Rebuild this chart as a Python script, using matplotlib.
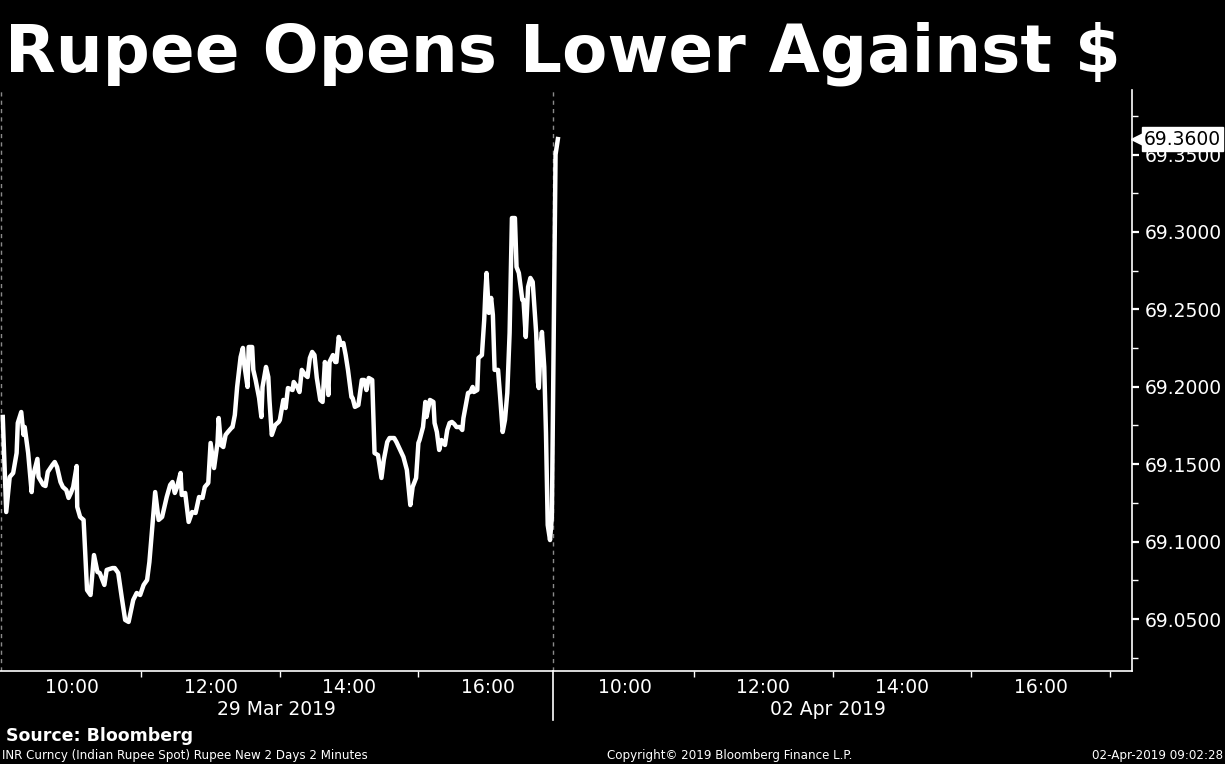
import matplotlib
matplotlib.use('Agg')
import matplotlib.pyplot as plt
import matplotlib.transforms as mtrans
from matplotlib.ticker import FixedLocator, MultipleLocator, FormatStrFormatter

# ---------------- data ----------------
# minutes after 09:00 on 29 Mar 2019 (2-minute bars, traced)
day1_minutes = [0, 3, 6, 9, 12, 13, 16, 18, 19, 22, 25, 26, 30, 31, 35, 37, 39, 43, 45, 47,
                50, 52, 55, 57, 59, 61, 64, 64.5, 67, 70, 73, 76, 79, 82, 84, 88, 90, 95, 97, 100,
                103, 106, 109, 113, 116, 119, 122, 125, 127, 132, 135, 138, 142, 145, 147, 149, 151, 154, 155, 158,
                161, 164, 167, 170, 173, 175, 178, 180, 182, 183, 186, 187, 189, 191, 193, 195, 198, 199, 201, 203,
                206, 208, 209, 212, 213, 216, 217, 219, 222, 224, 225, 228, 230, 231, 233, 236, 239, 240, 243, 245,
                247, 251, 252, 255, 257, 259, 262, 264, 266, 268, 270, 272, 275, 277, 279, 281, 282, 283, 286, 288,
                289, 291, 293, 295, 297, 299, 302, 303, 305, 308, 311, 313, 315, 317, 320, 322, 325, 328, 330, 333,
                335, 339, 341, 345, 347, 350, 353, 355, 358, 360, 361, 364, 366, 367, 370, 373, 374, 376, 378, 380,
                383, 385, 387, 389, 391, 393, 396, 398, 399, 403, 405, 407, 408, 411, 412, 415, 417, 418, 419, 420,
                421, 423, 424.5, 426, 429, 431, 433, 435, 437, 439, 441, 443.6, 445, 447, 450, 451, 453, 455, 457, 459,
                462, 463.5, 464.3, 466, 467, 469, 470.5, 472, 474, 475.6]
day1_prices = [69.1805, 69.1191, 69.1417, 69.1443, 69.1572, 69.1766, 69.1837, 69.1689, 69.1740, 69.1572,
               69.1320, 69.1417, 69.1534, 69.1417, 69.1366, 69.1359, 69.1450, 69.1495, 69.1514, 69.1482,
               69.1385, 69.1353, 69.1333, 69.1282, 69.1314, 69.1353, 69.1488, 69.1224, 69.1159, 69.1140,
               69.0687, 69.0655, 69.0913, 69.0804, 69.0797, 69.0720, 69.0817, 69.0829, 69.0829, 69.0797,
               69.0642, 69.0494, 69.0481, 69.0623, 69.0668, 69.0655, 69.0720, 69.0752, 69.0868, 69.1320,
               69.1140, 69.1159, 69.1288, 69.1366, 69.1385, 69.1314, 69.1353, 69.1443, 69.1301, 69.1314,
               69.1127, 69.1191, 69.1185, 69.1288, 69.1282, 69.1353, 69.1379, 69.1637, 69.1527, 69.1475,
               69.1637, 69.1798, 69.1624, 69.1611, 69.1689, 69.1708, 69.1734, 69.1740, 69.1818, 69.1999,
               69.2192, 69.2251, 69.2154, 69.1999, 69.2257, 69.2257, 69.2109, 69.2044, 69.1928, 69.1805,
               69.1999, 69.2128, 69.2063, 69.1915, 69.1689, 69.1753, 69.1773, 69.1786, 69.1915, 69.1863,
               69.1992, 69.1979, 69.2031, 69.1999, 69.1966, 69.2109, 69.2076, 69.2063, 69.2186, 69.2225,
               69.2205, 69.2057, 69.1915, 69.1902, 69.2160, 69.2076, 69.1947, 69.2160, 69.2205, 69.2160,
               69.2160, 69.2322, 69.2270, 69.2283, 69.2205, 69.2109, 69.1934, 69.1928, 69.1870, 69.1882,
               69.2044, 69.2044, 69.1979, 69.2057, 69.2044, 69.1572, 69.1559, 69.1411, 69.1527, 69.1643,
               69.1669, 69.1669, 69.1643, 69.1579, 69.1547, 69.1463, 69.1236, 69.1353, 69.1411, 69.1637,
               69.1656, 69.1740, 69.1902, 69.1805, 69.1915, 69.1902, 69.1766, 69.1708, 69.1592, 69.1656,
               69.1624, 69.1721, 69.1766, 69.1773, 69.1760, 69.1740, 69.1740, 69.1721, 69.1798, 69.1960,
               69.1966, 69.1999, 69.1966, 69.1979, 69.2186, 69.2205, 69.2432, 69.2606, 69.2735, 69.2612,
               69.2477, 69.2574, 69.2464, 69.2109, 69.2109, 69.1915, 69.1708, 69.1786, 69.1960, 69.2348,
               69.3090, 69.3090, 69.2774, 69.2735, 69.2561, 69.2561, 69.2322, 69.2645, 69.2703, 69.2677,
               69.2348, 69.2031, 69.1992, 69.2283, 69.2354, 69.2128, 69.1702, 69.1107, 69.1010, 69.1159]
# minutes after 09:00 on 02 Apr 2019
day2_minutes = [0, 2]
day2_prices = [69.3500, 69.3600]

session_dates = ['29 Mar 2019', '02 Apr 2019']
hour_ticks = [10, 12, 14, 16]
hour_labels = ['10:00', '12:00', '14:00', '16:00']
minor_hours = [11, 13, 15, 17]

title = 'Rupee Opens Lower Against $'
source = 'Source: Bloomberg'
footer_left = 'INR Curncy (Indian Rupee Spot) Rupee New 2 Days 2 Minutes'
footer_mid = 'Copyright\u00a9 2019 Bloomberg Finance L.P.'
footer_right = '02-Apr-2019 09:02:28'

# ---------------- layout ----------------
DAY2_OFFSET = 7.98           # hours: compressed axis, day 2 follows day 1
X_LEFT, DIVIDER, X_RIGHT = 8.96, 16.94, 25.30
Y_LOW, Y_HIGH = 69.0164, 69.3917

x_vals = [9 + m / 60 for m in day1_minutes] + [9 + m / 60 + DAY2_OFFSET for m in day2_minutes]
y_vals = day1_prices + day2_prices

fig = plt.figure(figsize=(12.25, 7.64), dpi=100, facecolor='black')
ax = fig.add_axes([0.0, 0.1217, 0.924, 0.7605])
ax.set_facecolor('black')

ax.plot(x_vals, y_vals, color='white', lw=3.2, solid_joinstyle='round', zorder=3)

ax.set_xlim(X_LEFT, X_RIGHT)
ax.set_ylim(Y_LOW, Y_HIGH)

for s in ['top', 'left']:
    ax.spines[s].set_visible(False)
for s in ['bottom', 'right']:
    ax.spines[s].set_color('white')
    ax.spines[s].set_linewidth(1.2)

# dashed day separators
dash = (0, (3, 3))
ax.axvline(X_LEFT + 0.015, color='#8a8a8a', lw=1, ls=dash, zorder=1)
ax.axvline(DIVIDER, color='#8a8a8a', lw=1, ls=dash, zorder=1)

# y axis on right
ax.yaxis.tick_right()
ax.yaxis.set_major_locator(MultipleLocator(0.05))
ax.yaxis.set_minor_locator(MultipleLocator(0.025))
ax.yaxis.set_major_formatter(FormatStrFormatter('%.4f'))
ax.tick_params(axis='y', which='major', colors='white', labelsize=13.5, length=5,
               width=1.6, pad=4, direction='out')
ax.tick_params(axis='y', which='minor', colors='white', length=4, width=1, direction='out')

# x axis ticks
major_x = hour_ticks + [h + DAY2_OFFSET for h in hour_ticks]
minor_x = minor_hours[:3] + [h + DAY2_OFFSET for h in minor_hours]
ax.xaxis.set_major_locator(FixedLocator(major_x))
ax.set_xticklabels(hour_labels + hour_labels)
ax.xaxis.set_minor_locator(FixedLocator(minor_x))
ax.tick_params(axis='x', which='major', colors='white', labelsize=13.5, length=0, pad=5)
ax.tick_params(axis='x', which='minor', colors='white', length=4, width=1, direction='out')

# date labels and solid separator under axis
tr = mtrans.blended_transform_factory(ax.transData, ax.transAxes)
date_centers = [(X_LEFT + DIVIDER) / 2, 12.93 + DAY2_OFFSET]
for xc, lab in zip(date_centers, session_dates):
    ax.text(xc, -0.066, lab, transform=tr, color='white', fontsize=13.5,
            ha='center', va='center')
ax.plot([DIVIDER, DIVIDER], [0, -0.084], transform=tr, color='white', lw=1.2, clip_on=False)

# last price tag
last = y_vals[-1]
tr2 = mtrans.blended_transform_factory(ax.transAxes, ax.transData)
ax.plot([1.0045], [last], marker='<', ms=8, color='white', transform=tr2, clip_on=False, zorder=6)
ax.text(1.0105, last, f'{last:.4f}', transform=tr2, color='black', fontsize=13.5,
        ha='left', va='center', zorder=7, clip_on=False,
        bbox=dict(boxstyle='square,pad=0.12', fc='white', ec='white'))

# texts
fig.text(0.004, 0.9058, title, color='white', fontsize=47.5, fontweight='bold',
         ha='left', va='baseline')
fig.text(0.005, 0.030, source, color='white', fontsize=12.5, fontweight='bold',
         ha='left', va='baseline')
fig.text(0.002, 0.006, footer_left, color='white', fontsize=8.6, ha='left', va='baseline')
fig.text(0.596, 0.006, footer_mid, color='white', fontsize=8.6, ha='center', va='baseline')
fig.text(0.998, 0.006, footer_right, color='white', fontsize=8.6, ha='right', va='baseline')

fig.savefig('out.png', dpi=100, facecolor='black')
